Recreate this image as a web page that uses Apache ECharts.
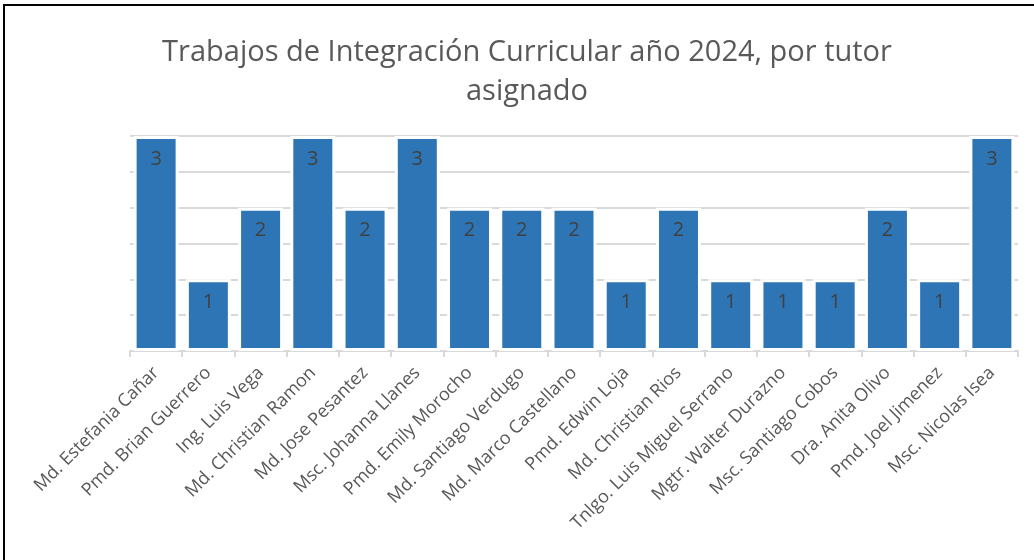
<!DOCTYPE html>
<html><head><meta charset="utf-8">
<script src="https://cdn.jsdelivr.net/npm/echarts@6/dist/echarts.min.js"></script>
<style>html,body{margin:0;padding:0;background:#fff}#c{width:1034px;height:560px}</style>
</head><body><div id="c"></div>
<script>
const categories = ["Md. Estefania Cañar","Pmd. Brian Guerrero","Ing. Luis Vega","Md. Christian Ramon","Md. Jose Pesantez","Msc. Johanna Llanes","Pmd. Emily Morocho","Md. Santiago Verdugo","Md. Marco Castellano","Pmd. Edwin Loja","Md. Christian Rios","Tnlgo. Luis Miguel Serrano","Mgtr. Walter Durazno","Msc. Santiago Cobos","Dra. Anita Olivo","Pmd. Joel Jimenez","Msc. Nicolas Isea"];
const values = [3,1,2,3,2,3,2,2,2,1,2,1,1,1,2,1,3];
const titleText = "Trabajos de Integración Curricular año 2024, por tutor\nasignado";

const chart = echarts.init(document.getElementById('c'));
chart.setOption({
  animation:false,
  backgroundColor:'#fff',
  title:{text:titleText,left:522,top:28,textAlign:'center',
    textStyle:{fontFamily:'Open Sans',fontSize:29,fontWeight:'normal',color:'#595959',lineHeight:39}},
  graphic:[{type:'rect',shape:{x:4,y:5,width:1100,height:700},style:{fill:'none',stroke:'#000',lineWidth:2},z:100}],
  grid:{left:130,right:16,top:136,bottom:209,containLabel:false},
  xAxis:{type:'category',data:categories,
    axisLine:{lineStyle:{color:'#d9d9d9',width:2}},
    axisTick:{show:true,alignWithLabel:false,length:6,lineStyle:{color:'#d9d9d9',width:2}},
    axisLabel:{rotate:45,interval:0,margin:19,fontFamily:'Open Sans',fontSize:18,color:'#595959'}},
  yAxis:{type:'value',min:0,max:3,interval:0.5,
    axisLabel:{show:false},axisLine:{show:false},axisTick:{show:false},
    splitLine:{lineStyle:{color:'#d9d9d9',width:2}}},
  series:[{type:'bar',data:values,barWidth:45,
    itemStyle:{color:'#2E75B6',borderColor:'#fff',borderWidth:3},
    label:{show:true,position:'insideTop',distance:13,fontFamily:'Open Sans',fontSize:20,color:'#404040'}}]
});
</script></body></html>
